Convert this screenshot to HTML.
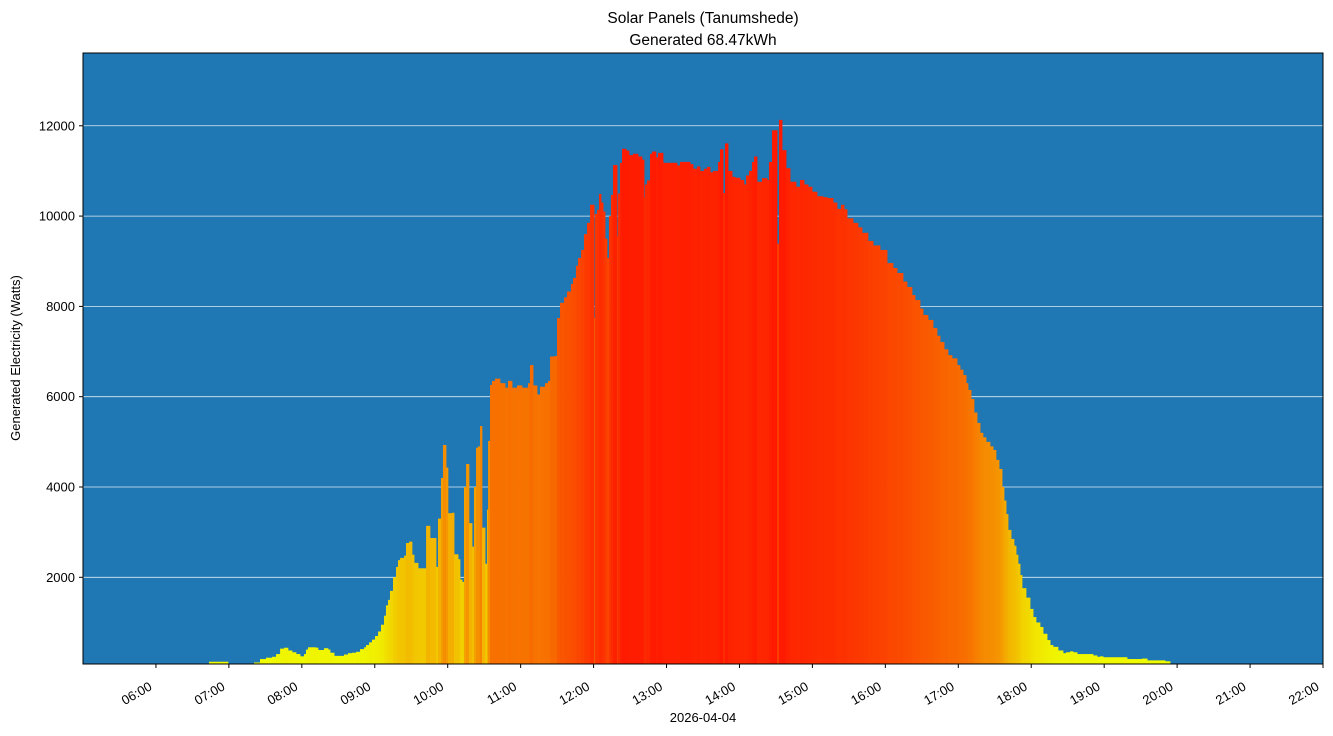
<!DOCTYPE html>
<html><head><meta charset="utf-8"><style>
html,body{margin:0;padding:0;background:#fff;}
svg{display:block;font-family:"Liberation Sans","DejaVu Sans",sans-serif;}
</style></head><body>
<svg id="chart" width="1333" height="736" viewBox="0 0 1333 736">
<text x="703" y="23" font-size="15.5" text-anchor="middle">Solar Panels (Tanumshede)</text>
<text x="703" y="45" font-size="15.5" text-anchor="middle">Generated 68.47kWh</text>
<rect x="83" y="53" width="1240" height="611" fill="#1f77b4"/>
<g id="grid"></g><g id="bars"></g>
<rect x="83" y="53" width="1240" height="611" fill="none" stroke="#000" stroke-width="1"/>
<g id="yticks"></g><g id="xticks"></g>
<text transform="translate(20,358) rotate(-90)" font-size="13" text-anchor="middle">Generated Electricity (Watts)</text>
<text x="703" y="722" font-size="13" text-anchor="middle">2026-04-04</text>
</svg>
<script>
// minutes of day for each sample
const times=[403.6,419.3,440.7,445.6,450.5,455.5,458.8,462.1,465.3,468.6,471.9,475.2,478.5,481.8,483.4,485.1,488.4,491.7,493.3,496.6,498.2,501.5,503.2,506.5,511.4,514.7,518,521.3,524.6,527.9,531.2,532.8,535.3,537.7,540.2,542.7,545.1,547.6,549.2,550.9,552.5,555,557.5,559.1,560.8,564.1,565.7,568.2,570.6,572.3,575.6,582.2,585.4,590.4,592,594.5,596.1,598.6,600.2,603.5,605.2,608.5,610.1,611.8,613.4,615.1,617.5,620,621.6,623.3,624.9,626.6,628.2,630.7,632.3,633.2,634.8,636.4,638.9,643,647.1,649.6,652.9,657,661.1,666.1,667.7,670.2,673.5,675.9,680,682.5,684.2,687.4,689.9,692.4,695.7,698.1,701.4,703.1,705.5,707.2,709.7,712.1,714.6,717.1,719.5,720.4,721.2,722.8,724.5,726.1,727.8,729.4,731,732.7,734.3,736,739.3,740.1,741.7,743.4,746.7,749.1,752.4,756.5,759.8,761.5,762.3,763.9,766.4,768.1,771.3,773,777.1,785.3,788.6,791.1,796,799.3,801.8,805.1,807.5,810.8,813.3,815.8,818.2,822.4,824,826.5,828.1,830.6,833.9,836.3,840.4,843.7,845.4,847.9,850.3,852,854.4,858.5,862.7,864.3,866.8,870.1,870.9,872.5,875,878.3,881.6,886.5,889.8,893.1,896.4,899.7,903.8,908.7,912,917,920.2,923.5,926,928.5,933.4,937.5,940.8,945.7,949.9,955.6,961.4,966.3,969.6,974.5,977.8,981.9,984.4,988.5,991,995.1,999.2,1002.5,1005,1008.3,1011.5,1014.8,1019,1021.4,1023.9,1026.4,1028,1030.5,1032.9,1035.4,1037.9,1040.3,1042.8,1046.1,1048.6,1051,1053.5,1056,1057.6,1059.3,1060.9,1063.4,1065.8,1067.5,1069.1,1070.8,1072.4,1075.7,1079,1081.5,1083.9,1087.2,1089.7,1093,1095.5,1097.9,1102,1106.1,1108.6,1111.9,1114.4,1117.7,1128.4,1130.8,1134.1,1136.6,1139.1,1157.2,1158.8,1171.1,1175.3,1190.1,1194.2];
// watts
const watts=[130,0,90,190,220,240,300,420,440,380,340,300,250,300,400,450,450,440,390,390,430,400,330,260,260,290,320,330,350,410,450,500,560,620,700,800,950,1150,1380,1500,1700,2000,2230,2380,2430,2480,2760,2790,2500,2320,2200,3140,2870,2230,3300,4200,4930,4430,3420,3430,2510,2400,1950,1900,4000,4510,3200,2680,4000,4870,4900,5350,3100,2300,3500,5020,6260,6350,6400,6300,6200,6350,6200,6250,6200,6300,6700,6250,6050,6220,6300,6350,6890,6900,7740,8080,8200,8330,8500,8630,8900,9070,9250,9600,9850,10250,10250,7740,10050,10140,10490,10300,10100,9500,9070,10000,10470,11130,9550,10500,11180,11490,11450,11350,11380,11320,11250,10410,10700,10790,11380,11430,11300,11400,11180,11180,11120,11200,11200,11150,11050,11100,11000,11050,11090,10970,11000,11200,11480,10510,11610,11000,10870,10850,10800,10700,10900,11000,11200,11320,10760,10840,10800,11200,11900,11900,9390,12130,11460,11060,10760,10650,10800,10700,10650,10540,10440,10420,10400,10300,10160,10250,10150,9950,9850,9750,9630,9450,9350,9250,8960,8850,8740,8550,8430,8250,8140,7950,7810,7700,7520,7350,7210,7050,6920,6850,6700,6600,6480,6300,6150,5950,5650,5420,5200,5100,5000,4900,4820,4600,4400,4000,3700,3400,3050,2850,2700,2500,2300,2050,1760,1550,1300,1120,1000,900,750,610,500,460,380,320,340,360,340,300,300,270,240,250,230,230,190,200,160,140,60,0];
const yTicks=[2000,4000,6000,8000,10000,12000];
const xTickLabels=["06:00","07:00","08:00","09:00","10:00","11:00","12:00","13:00","14:00","15:00","16:00","17:00","18:00","19:00","20:00","21:00","22:00"];

const NS="http://www.w3.org/2000/svg";
const X0=83,X1=1323,Y0=53,Y1=664;
const tMin=300,tMax=1320,vMin=80,vMax=13612;
function xs(t){return X0+(t-tMin)/(tMax-tMin)*(X1-X0);}
function ys(v){return Y1-(v-vMin)/(vMax-vMin)*(Y1-Y0);}
function mk(tag,attrs){const e=document.createElementNS(NS,tag);for(const k in attrs)e.setAttribute(k,attrs[k]);return e;}
function lerp(a,b,f){return Math.round(a+(b-a)*f);}
function color(v){
  const stops=[[0,[240,255,0]],[2500,[242,194,0]],[6000,[247,118,0]],[9000,[251,70,0]],[11500,[255,26,0]]];
  if(v<=0)return "rgb(240,255,0)";
  for(let i=1;i<stops.length;i++){if(v<=stops[i][0]){const f=(v-stops[i-1][0])/(stops[i][0]-stops[i-1][0]);const a=stops[i-1][1],b=stops[i][1];return `rgb(${lerp(a[0],b[0],f)},${lerp(a[1],b[1],f)},${lerp(a[2],b[2],f)})`;}}
  return "rgb(255,26,0)";
}
const grid=document.getElementById('grid'),yt=document.getElementById('yticks'),xt=document.getElementById('xticks'),bars=document.getElementById('bars');
yTicks.forEach(v=>{
  const y=ys(v);
  const g=mk('line',{x1:X0,x2:X1,y1:y,y2:y,stroke:'#ffffff','stroke-opacity':0.85,'stroke-width':0.8});
  
  
  grid.appendChild(g);
  const t=mk('line',{x1:X0-4,x2:X0,y1:y,y2:y,stroke:'#000'});
  
  
  yt.appendChild(t);
  const l=mk('text',{x:X0-8,y:y+4.5,'font-size':13,'text-anchor':'end'});
  l.textContent=v;
  
  
  yt.appendChild(l);
});
xTickLabels.forEach((s,i)=>{
  const p=s.split(':');const m=(+p[0])*60+(+p[1]);const x=xs(m);
  const t=mk('line',{x1:x,x2:x,y1:Y1,y2:Y1+4,stroke:'#000'});
  
  
  xt.appendChild(t);
  const l=mk('text',{transform:`translate(${x-3},${Y1+25}) rotate(-30)`,'font-size':13,'text-anchor':'end'});
  l.textContent=s;
  
  
  xt.appendChild(l);
});
for(let i=0;i<times.length-1;i++){
  const v=watts[i];if(v<=0)continue;
  const xa=xs(times[i]),xb=xs(times[i+1]);
  const yv=Math.min(ys(v),Y1-1.5);
  const r=mk('rect',{x:xa,y:yv,width:Math.max(xb-xa+0.4,0.5),height:Y1-yv,fill:color(v)});
  
  
  bars.appendChild(r);
}
</script>
</body></html>
